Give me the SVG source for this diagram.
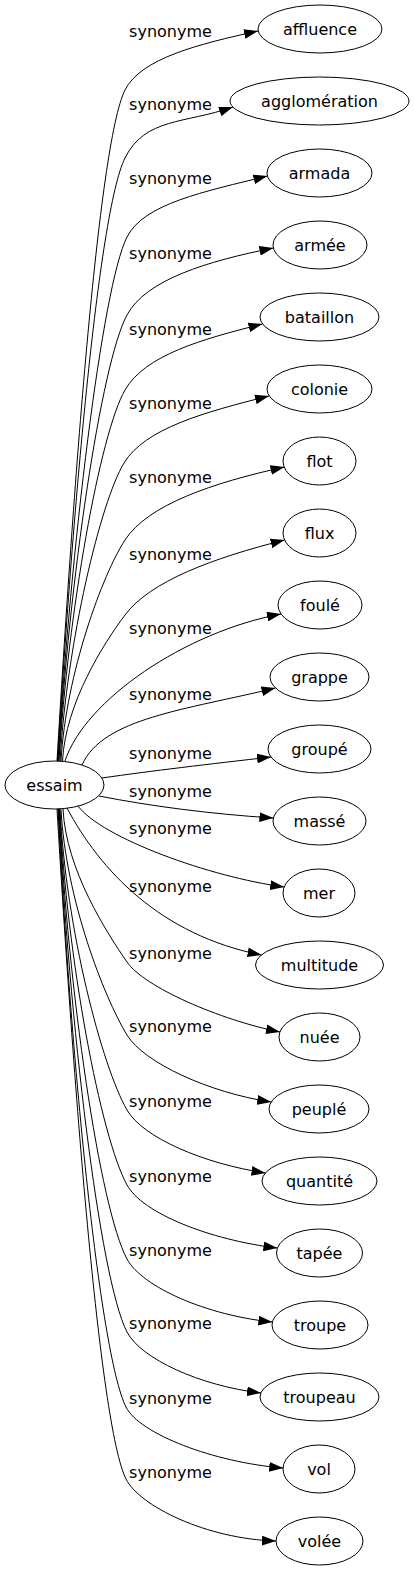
<svg xmlns="http://www.w3.org/2000/svg" width="415" height="1571" viewBox="0 0 415 1571">
<style>
.n ellipse{fill:none;stroke:#000;stroke-width:1}
.n text{font-family:"DejaVu Sans",sans-serif;font-size:16px;text-anchor:middle;fill:#000}
.e path{fill:none;stroke:#000;stroke-width:1;marker-end:url(#ah)}
.e text{font-family:"DejaVu Sans",sans-serif;font-size:16px;text-anchor:middle;fill:#000}
</style>
<defs>
<marker id="ah" viewBox="0 0 10 7" refX="10" refY="3.5" markerUnits="userSpaceOnUse" markerWidth="14" markerHeight="9.8" orient="auto">
<path d="M0,0 L10,3.5 L0,7 z" fill="#000"/>
</marker>
</defs>
<rect width="415" height="1571" fill="#fff"/>
<g id="connectors" class="e">
<path d="M57,761 C73,493 98,144 125,90 C140.75,58.5 198,44.2 258,31"/><text x="170.5" y="37">synonyme</text>
<path d="M57.5,761 C72,520 98,212 125,158 C145,117.5 185,123.8 233,107"/><text x="170.5" y="110">synonyme</text>
<path d="M58,761 C70.6,551 102,286.5 127,237 C143.7,203.7 204,191.75 267.4,176"/><text x="170.5" y="184">synonyme</text>
<path d="M58.5,761 C69,583 101,363 127,315 C145.8,279.8 207,261.2 273.4,248"/><text x="170.5" y="259">synonyme</text>
<path d="M59,761 C68,613 100,433.5 125,390 C145,355.2 201.5,339.25 262.5,324"/><text x="170.5" y="335">synonyme</text>
<path d="M60,761 C67,642 100.6,501.7 124,463 C144.8,428.6 204,412.25 269,396"/><text x="170.5" y="409">synonyme</text>
<path d="M61,761 C66,673 103,573.6 125,540 C148,504.7 212.5,482.8 284.5,467"/><text x="170.5" y="483">synonyme</text>
<path d="M62.5,761 C65.5,703 104,643 125,615 C150,581.4 213,558 284.6,540"/><text x="170.5" y="560">synonyme</text>
<path d="M65,761 C85,700 185,632 281,614"/><text x="170.5" y="634">synonyme</text>
<path d="M82,765 C103,718 185,710 275.5,688"/><text x="170.5" y="700">synonyme</text>
<path d="M102,778 C150,771 210,764 271,757"/><text x="170.5" y="759">synonyme</text>
<path d="M99,796 C150,806 210,814 273.4,818"/><text x="170.5" y="797">synonyme</text>
<path d="M78,806 C102,838 210,877 284.2,887"/><text x="170.5" y="834">synonyme</text>
<path d="M67,808 C100,870 160,935 261.5,955"/><text x="170.5" y="892">synonyme</text>
<path d="M63,809 C66,870 107,933 127,962 C144,987 220,1020 280,1032"/><text x="170.5" y="959">synonyme</text>
<path d="M61,809.5 C66,899.5 103.6,996.3 127,1035 C143.6,1062.5 209,1092.7 271.2,1102"/><text x="170.5" y="1032">synonyme</text>
<path d="M60,809 C66,929 102,1066.5 127,1110 C143,1137.8 204,1163.7 265.5,1173"/><text x="170.5" y="1107">synonyme</text>
<path d="M59.5,809 C67,959 100.6,1136.6 127,1185 C142.4,1213.2 210,1240 277.4,1248"/><text x="170.5" y="1182">synonyme</text>
<path d="M59,809 C68,989 99.7,1208 127,1259 C142,1287 207,1315.5 272.4,1322"/><text x="170.5" y="1256">synonyme</text>
<path d="M58.5,809 C69,1018 99.4,1278.6 127,1332 C140.8,1358.7 200,1385.8 261,1393"/><text x="170.5" y="1329">synonyme</text>
<path d="M58,809 C70,1048 99,1353 126,1407 C139.5,1434 214,1462.4 283.2,1468"/><text x="170.5" y="1404">synonyme</text>
<path d="M57,809 C73,1077 99,1425 126,1479 C139.5,1506 206.5,1539 276,1541"/><text x="170.5" y="1478">synonyme</text>
</g>
<g id="essaim" class="n"><ellipse cx="54.5" cy="785" rx="49.5" ry="24"/><text x="54.5" y="790.5">essaim</text></g>
<g id="affluence" class="n"><ellipse cx="320" cy="29" rx="62" ry="24"/><text x="320" y="34.5">affluence</text></g>
<g id="agglomeration" class="n"><ellipse cx="319.5" cy="101" rx="89.5" ry="24"/><text x="319.5" y="106.5">agglomération</text></g>
<g id="armada" class="n"><ellipse cx="319.5" cy="173" rx="52.5" ry="24"/><text x="319.5" y="178.5">armada</text></g>
<g id="armee" class="n"><ellipse cx="320" cy="245" rx="47" ry="24"/><text x="320" y="250.5">armée</text></g>
<g id="bataillon" class="n"><ellipse cx="319.5" cy="317" rx="59.5" ry="24"/><text x="319.5" y="322.5">bataillon</text></g>
<g id="colonie" class="n"><ellipse cx="319.5" cy="389" rx="52.5" ry="24"/><text x="319.5" y="394.5">colonie</text></g>
<g id="flot" class="n"><ellipse cx="319.5" cy="461" rx="36.5" ry="24"/><text x="319.5" y="466.5">flot</text></g>
<g id="flux" class="n"><ellipse cx="319.5" cy="533" rx="36.5" ry="24"/><text x="319.5" y="538.5">flux</text></g>
<g id="foule" class="n"><ellipse cx="320" cy="605" rx="42" ry="24"/><text x="320" y="610.5">foulé</text></g>
<g id="grappe" class="n"><ellipse cx="319.5" cy="677" rx="49.5" ry="24"/><text x="319.5" y="682.5">grappe</text></g>
<g id="groupe" class="n"><ellipse cx="319.5" cy="749" rx="51.5" ry="24"/><text x="319.5" y="754.5">groupé</text></g>
<g id="masse" class="n"><ellipse cx="319.5" cy="821" rx="46.5" ry="24"/><text x="319.5" y="826.5">massé</text></g>
<g id="mer" class="n"><ellipse cx="319" cy="893" rx="36" ry="24"/><text x="319" y="898.5">mer</text></g>
<g id="multitude" class="n"><ellipse cx="319.5" cy="965" rx="64" ry="24"/><text x="319.5" y="970.5">multitude</text></g>
<g id="nuee" class="n"><ellipse cx="319.5" cy="1037" rx="40.5" ry="24"/><text x="319.5" y="1042.5">nuée</text></g>
<g id="peuple" class="n"><ellipse cx="319" cy="1109" rx="50" ry="24"/><text x="319" y="1114.5">peuplé</text></g>
<g id="quantite" class="n"><ellipse cx="319.5" cy="1181" rx="57.5" ry="24"/><text x="319.5" y="1186.5">quantité</text></g>
<g id="tapee" class="n"><ellipse cx="319.5" cy="1253" rx="43" ry="24"/><text x="319.5" y="1258.5">tapée</text></g>
<g id="troupe" class="n"><ellipse cx="320" cy="1325" rx="48" ry="24"/><text x="320" y="1330.5">troupe</text></g>
<g id="troupeau" class="n"><ellipse cx="319.5" cy="1397" rx="59.5" ry="24"/><text x="319.5" y="1402.5">troupeau</text></g>
<g id="vol" class="n"><ellipse cx="319" cy="1469" rx="36" ry="24"/><text x="319" y="1474.5">vol</text></g>
<g id="volee" class="n"><ellipse cx="319.5" cy="1541" rx="43.5" ry="24"/><text x="319.5" y="1546.5">volée</text></g>
</svg>
